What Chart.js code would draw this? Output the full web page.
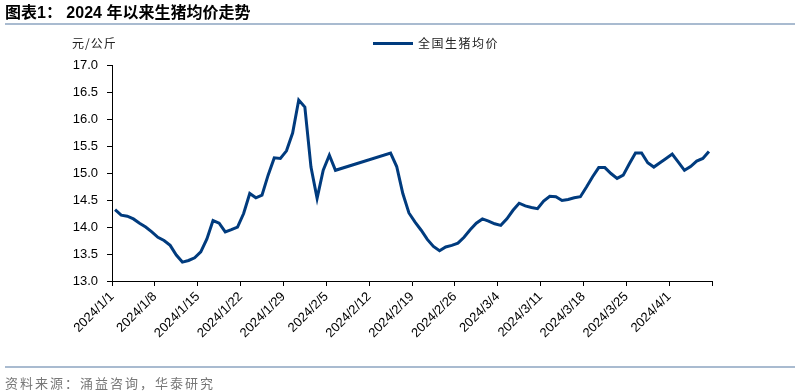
<!DOCTYPE html>
<html>
<head>
<meta charset="utf-8">
<script src="https://cdn.jsdelivr.net/npm/chart.js@4.4.1/dist/chart.umd.min.js"></script>
<style>
  html, body { margin: 0; padding: 0; background: #fff; }
  #wrap { position: relative; width: 800px; height: 392px; overflow: hidden; }
  #c { position: absolute; left: 0; top: 0; }
  .t { position: absolute; white-space: nowrap; font-family: "Liberation Sans", "Noto Sans CJK SC", sans-serif; }
  #title { left: 5px; top: 3px; font-size: 16px; font-weight: bold; color: #000; line-height: 20px; }
  #sep1 { position: absolute; left: 5px; top: 23px; width: 790px; height: 2px; background: #A9BBD0; }
  #unit { left: 72px; top: 35px; font-size: 12px; color: #222; line-height: 16px; letter-spacing: 1px; font-family: "Noto Sans CJK SC", sans-serif; }
  #legline { position: absolute; left: 373px; top: 42px; width: 40px; height: 3px; background: #003B7E; }
  #legtxt { left: 418px; top: 35px; font-size: 12px; color: #222; line-height: 16px; letter-spacing: 1.5px; font-family: "Noto Sans CJK SC", sans-serif; }
  #sep2 { position: absolute; left: 5px; top: 366px; width: 790px; height: 2px; background: #A9BBD0; }
  #src { left: 5px; top: 374px; font-size: 13px; color: #777; line-height: 18px; letter-spacing: 2px; font-family: "Noto Sans CJK SC", sans-serif; }
</style>
</head>
<body>
<div id="wrap">
  <canvas id="c" width="800" height="392"></canvas>
  <div class="t" id="title">图表1： 2024 年以来生猪均价走势</div>
  <div id="sep1"></div>
  <div class="t" id="unit">元/公斤</div>
  <div id="legline"></div>
  <div class="t" id="legtxt">全国生猪均价</div>
  <div id="sep2"></div>
  <div class="t" id="src">资料来源：涌益咨询，华泰研究</div>
</div>
<script>
// Categories: observation dates (2024/2/7 - 2024/2/14 have no data)
const dates = [
  "2024/1/1","2024/1/2","2024/1/3","2024/1/4","2024/1/5","2024/1/6","2024/1/7","2024/1/8","2024/1/9","2024/1/10",
  "2024/1/11","2024/1/12","2024/1/13","2024/1/14","2024/1/15","2024/1/16","2024/1/17","2024/1/18","2024/1/19","2024/1/20",
  "2024/1/21","2024/1/22","2024/1/23","2024/1/24","2024/1/25","2024/1/26","2024/1/27","2024/1/28","2024/1/29","2024/1/30",
  "2024/1/31","2024/2/1","2024/2/2","2024/2/3","2024/2/4","2024/2/5","2024/2/6",
  "2024/2/15","2024/2/16","2024/2/17","2024/2/18","2024/2/19","2024/2/20","2024/2/21","2024/2/22","2024/2/23","2024/2/24",
  "2024/2/25","2024/2/26","2024/2/27","2024/2/28","2024/2/29","2024/3/1","2024/3/2","2024/3/3","2024/3/4","2024/3/5",
  "2024/3/6","2024/3/7","2024/3/8","2024/3/9","2024/3/10","2024/3/11","2024/3/12","2024/3/13","2024/3/14","2024/3/15",
  "2024/3/16","2024/3/17","2024/3/18","2024/3/19","2024/3/20","2024/3/21","2024/3/22","2024/3/23","2024/3/24","2024/3/25",
  "2024/3/26","2024/3/27","2024/3/28","2024/3/29","2024/3/30","2024/3/31","2024/4/1","2024/4/2","2024/4/3","2024/4/4",
  "2024/4/5","2024/4/6","2024/4/7"
];
// Series: 全国生猪均价 (元/公斤)
const prices = [
  14.32,14.22,14.20,14.15,14.07,14.00,13.91,13.81,13.75,13.66,
  13.48,13.35,13.38,13.43,13.54,13.78,14.12,14.07,13.91,13.95,
  14.00,14.25,14.62,14.54,14.59,14.96,15.28,15.27,15.41,15.74,
  16.35,16.22,15.11,14.53,15.05,15.33,15.05,
  15.37,15.12,14.62,14.26,14.09,13.94,13.77,13.64,13.56,13.63,
  13.66,13.70,13.81,13.95,14.07,14.15,14.11,14.06,14.03,14.15,
  14.31,14.44,14.39,14.36,14.34,14.48,14.57,14.56,14.49,14.51,
  14.54,14.56,14.74,14.93,15.10,15.10,14.99,14.90,14.96,15.17,
  15.37,15.37,15.19,15.11,15.19,15.27,15.35,15.20,15.05,15.12,
  15.22,15.27,15.40
];
// Axis tick settings
const xStartDate = "2024/1/1";
const xEndDate = "2024/4/8";
const xTickDays = 7;
const yTicks = [13.0, 13.5, 14.0, 14.5, 15.0, 15.5, 16.0, 16.5, 17.0];

function parseD(s) { const p = s.split("/").map(Number); return new Date(p[0], p[1]-1, p[2]); }
const t0 = parseD(xStartDate);
const dayIdx = s => Math.round((parseD(s) - t0) / 86400000);
const xMax = dayIdx(xEndDate);
function fmt(d) { const dt = new Date(t0.getTime() + d * 86400000); return dt.getFullYear() + "/" + (dt.getMonth()+1) + "/" + dt.getDate(); }

const points = dates.map((d, i) => ({ x: dayIdx(d) + 0.5, y: prices[i] }));

new Chart(document.getElementById("c"), {
  type: "line",
  data: {
    datasets: [{
      label: "全国生猪均价",
      data: points,
      borderColor: "#003B7E",
      backgroundColor: "#003B7E",
      borderWidth: 3,
      pointRadius: 0,
      tension: 0,
      fill: false
    }]
  },
  options: {
    responsive: false,
    animation: false,
    layout: { padding: { left: 0, top: 65, right: 88, bottom: 31 } },
    plugins: { legend: { display: false }, tooltip: { enabled: false } },
    scales: {
      x: {
        type: "linear",
        min: 0,
        max: xMax,
        afterFit: s => { s.height = 80; },
        afterBuildTicks: s => {
          const arr = [];
          for (let v = 0; v <= xMax; v += xTickDays) arr.push({ value: v });
          s.ticks = arr;
        },
        ticks: {
          autoSkip: false,
          maxRotation: 45,
          minRotation: 45,
          padding: 3,
          color: "#000",
          font: { family: "Liberation Sans", size: 13 },
          callback: v => (v >= xMax ? "" : fmt(v))
        },
        grid: { display: true, drawOnChartArea: false, drawTicks: true, tickLength: 5, color: "#000", lineWidth: 1 },
        border: { display: true, color: "#000", width: 1 }
      },
      y: {
        min: yTicks[0],
        max: yTicks[yTicks.length - 1],
        afterFit: s => { s.width = 112; },
        afterBuildTicks: s => { s.ticks = yTicks.map(v => ({ value: v })); },
        ticks: {
          padding: 9,
          color: "#000",
          font: { family: "Liberation Sans", size: 13 },
          callback: v => Number(v).toFixed(1)
        },
        grid: { display: true, drawOnChartArea: false, drawTicks: true, tickLength: 5, color: "#000", lineWidth: 1 },
        border: { display: true, color: "#000", width: 1 }
      }
    }
  }
});
</script>
</body>
</html>
